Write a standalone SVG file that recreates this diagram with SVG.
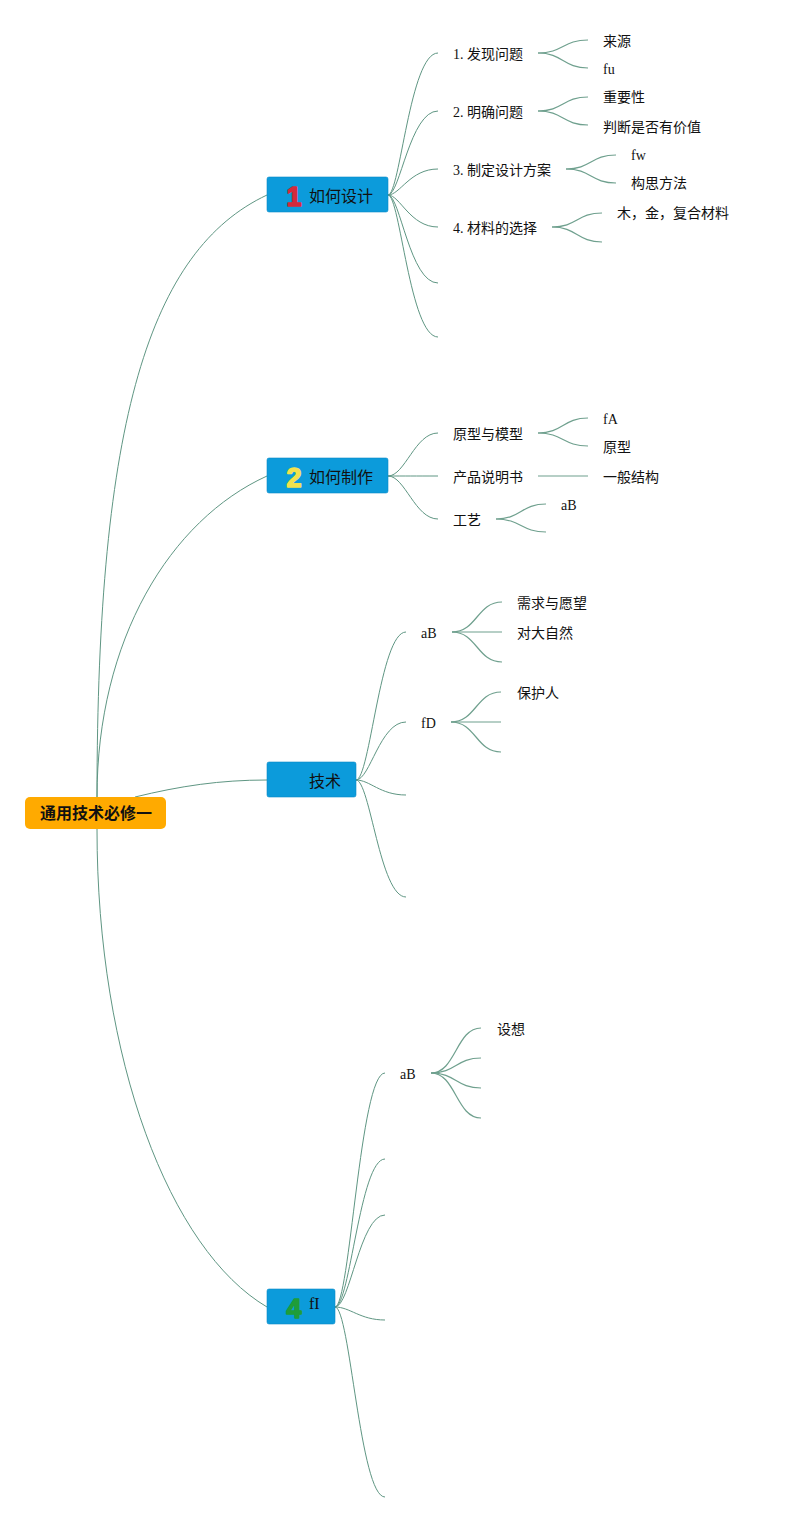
<svg xmlns="http://www.w3.org/2000/svg" width="789" height="1523" viewBox="0 0 789 1523">
<style>
.c{fill:none;stroke:#5f9683;stroke-width:1}
.s{fill:none;stroke:#6fa08e;stroke-width:1.2}
.t{font-family:"Liberation Serif","Noto Sans CJK SC",serif;font-size:14px;fill:#111}
.nt{font-family:"Liberation Serif","Noto Sans CJK SC",serif;font-size:16px;fill:#111}
.box{fill:#0c9bdb;stroke:#0a8cc7;stroke-width:0.6}
.badge{font-family:"Liberation Sans","DejaVu Sans",sans-serif;font-size:27px;font-weight:bold;stroke-width:1.6;stroke-linejoin:round}
</style>
<rect width="789" height="1523" fill="#fff"/>
<g id="connectors">
<path class="c" d="M97,797 C97,420 150,250 267,195"/>
<path class="c" d="M97,797 C97,640 170,520 267,476"/>
<path class="c" d="M135,797 C180,786 220,780 267,780"/>
<path class="c" d="M97,829 C97,1060 170,1250 267,1307"/>
<path class="c" d="M388,195 C400,195 410,53 438,53"/>
<path class="c" d="M388,195 C400,195 410,111 438,111"/>
<path class="c" d="M388,195 C400,195 410,169 438,169"/>
<path class="c" d="M388,195 C400,195 410,227 438,227"/>
<path class="c" d="M388,195 C400,195 410,283 438,283"/>
<path class="c" d="M388,195 C400,195 410,337 438,337"/>
<path class="s" d="M538,53 C563,53 563,40 588,40"/>
<path class="s" d="M538,53 C563,53 563,68 588,68"/>
<path class="s" d="M538,111 C563,111 563,97 588,97"/>
<path class="s" d="M538,111 C563,111 563,125 588,125"/>
<path class="s" d="M566,169 C591,169 591,155 616,155"/>
<path class="s" d="M566,169 C591,169 591,183 616,183"/>
<path class="s" d="M552,227 C577,227 577,213 602,213"/>
<path class="s" d="M552,227 C577,227 577,242 602,242"/>
<path class="c" d="M388,476 C405,476 415,433 438,433"/>
<path class="c" d="M388,476 C405,476 415,476 438,476"/>
<path class="c" d="M388,476 C405,476 415,519 438,519"/>
<path class="s" d="M538,433 C563,433 563,418 588,418"/>
<path class="s" d="M538,433 C563,433 563,446 588,446"/>
<path class="s" d="M538,476 L588,476"/>
<path class="s" d="M496,519 C521,519 521,504 546,504"/>
<path class="s" d="M496,519 C521,519 521,532 546,532"/>
<path class="c" d="M356,780 C370,780 380,632 406,632"/>
<path class="c" d="M356,780 C370,780 380,722 406,722"/>
<path class="c" d="M356,780 C370,780 380,795 406,795"/>
<path class="c" d="M356,780 C370,780 380,897 406,897"/>
<path class="s" d="M452,632 C477,632 477,602 502,602"/>
<path class="s" d="M452,632 L502,632"/>
<path class="s" d="M452,632 C477,632 477,662 502,662"/>
<path class="s" d="M451,722 C476,722 476,692 501,692"/>
<path class="s" d="M451,722 L501,722"/>
<path class="s" d="M451,722 C476,722 476,752 501,752"/>
<path class="c" d="M335,1307 C350,1307 360,1073 385,1073"/>
<path class="c" d="M335,1307 C350,1307 360,1159 385,1159"/>
<path class="c" d="M335,1307 C350,1307 360,1215 385,1215"/>
<path class="c" d="M335,1307 C350,1307 360,1320 385,1320"/>
<path class="c" d="M335,1307 C350,1307 360,1497 385,1497"/>
<path class="s" d="M431,1073 C456,1073 456,1028 481,1028"/>
<path class="s" d="M431,1073 C456,1073 456,1058 481,1058"/>
<path class="s" d="M431,1073 C456,1073 456,1088 481,1088"/>
<path class="s" d="M431,1073 C456,1073 456,1118 481,1118"/>
</g>
<g id="root">
<rect x="25" y="797" width="141" height="32" rx="5" fill="#ffaa00"/>
<text x="96" y="819" text-anchor="middle" font-family="'Noto Sans CJK SC',sans-serif" font-size="16" font-weight="bold" fill="#111">通用技术必修一</text>
</g>
<g id="n1">
<rect class="box" x="267" y="177" width="121" height="35" rx="2"/>
<text class="badge" x="294" y="206" text-anchor="middle" fill="#d42a3c" stroke="#d42a3c">1</text>
<text class="nt" x="309" y="202">如何设计</text>
</g>
<g id="n2">
<rect class="box" x="267" y="458" width="121" height="35" rx="2"/>
<text class="badge" x="294" y="487" text-anchor="middle" fill="#f2e24e" stroke="#f2e24e">2</text>
<text class="nt" x="309" y="483">如何制作</text>
</g>
<g id="n3">
<rect class="box" x="267" y="762" width="89" height="35" rx="2"/>
<text class="nt" x="309" y="787">技术</text>
</g>
<g id="n4">
<rect class="box" x="267" y="1289" width="68" height="35" rx="2"/>
<text class="badge" x="294" y="1318" text-anchor="middle" fill="#1f9d3a" stroke="#1f9d3a">4</text>
<text class="nt" x="309" y="1309">fI</text>
</g>
<g id="n1-children">
<text class="t" x="453" y="59">1. 发现问题</text>
<text class="t" x="453" y="117">2. 明确问题</text>
<text class="t" x="453" y="175">3. 制定设计方案</text>
<text class="t" x="453" y="233">4. 材料的选择</text>
<text class="t" x="603" y="46">来源</text>
<text class="t" x="603" y="74">fu</text>
<text class="t" x="603" y="102">重要性</text>
<text class="t" x="603" y="132">判断是否有价值</text>
<text class="t" x="631" y="160">fw</text>
<text class="t" x="631" y="188">构思方法</text>
<text class="t" x="617" y="218">木，金，复合材料</text>
</g>
<g id="n2-children">
<text class="t" x="453" y="439">原型与模型</text>
<text class="t" x="453" y="482">产品说明书</text>
<text class="t" x="453" y="525">工艺</text>
<text class="t" x="603" y="424">fA</text>
<text class="t" x="603" y="452">原型</text>
<text class="t" x="603" y="482">一般结构</text>
<text class="t" x="561" y="510">aB</text>
</g>
<g id="n3-children">
<text class="t" x="421" y="638">aB</text>
<text class="t" x="421" y="728">fD</text>
<text class="t" x="517" y="608">需求与愿望</text>
<text class="t" x="517" y="638">对大自然</text>
<text class="t" x="517" y="698">保护人</text>
</g>
<g id="n4-children">
<text class="t" x="400" y="1079">aB</text>
<text class="t" x="497" y="1034">设想</text>
</g>
</svg>
